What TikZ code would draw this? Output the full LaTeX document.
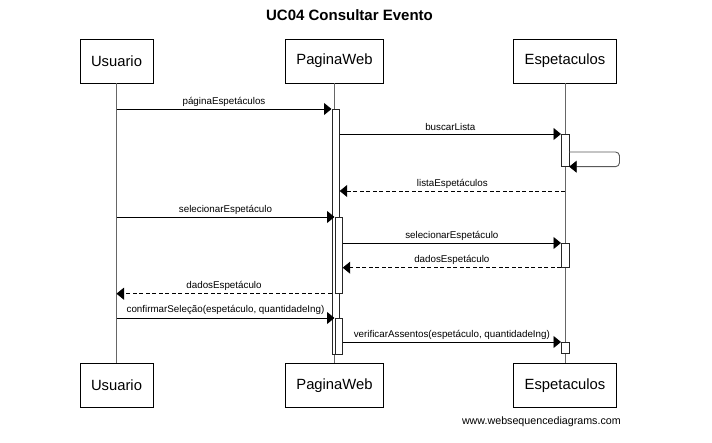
\documentclass[tikz,border=0pt]{standalone}
\usepackage{fontspec}
\setmainfont{Liberation Sans}
\usetikzlibrary{arrows.meta,calc}
\begin{document}
\begin{tikzpicture}[x=1pt,y=-1pt,
  actor/.style={draw=black, line width=0.9pt, fill=white, minimum height=44pt, inner xsep=11pt, font=\fontsize{14.8}{17}\selectfont},
  lifeline/.style={draw=black!60, line width=0.8pt},
  actbar/.style={draw=black!85, line width=0.7pt, fill=white, minimum width=7.5pt, inner sep=0pt, anchor=north west},
  msg/.style={draw=black, line width=0.9pt, -{Triangle[length=7.5pt,width=12pt,color=black]}},
  ret/.style={msg, dash pattern=on 4pt off 2.5pt},
  selfmsg/.style={msg, draw=black!65, rounded corners=4pt},
  lbl/.style={font=\fontsize{9.8}{11}\selectfont, above, inner sep=2.5pt}
]
\useasboundingbox (0,0) rectangle (712,443);

% title
\node[font=\fontsize{15}{18}\selectfont\bfseries, anchor=base] (title) at (349.5,20.5) {UC04 Consultar Evento};

% participants
\node[actor] (u1) at (116.5,61) {Usuario};
\node[actor] (p1) at (334.5,61) {PaginaWeb};
\node[actor] (e1) at (565,61) {Espetaculos};
\node[actor] (u2) at (116.5,385.5) {Usuario};
\node[actor] (p2) at (334.5,385.5) {PaginaWeb};
\node[actor] (e2) at (565,385.5) {Espetaculos};

% lifelines
\draw[lifeline] (u1.south) -- (u2.north);
\draw[lifeline] (p1.south) -- (p2.north);
\draw[lifeline] (e1.south) -- (e2.north);

% activation bars
\node[actbar, minimum height=245pt] (a1) at (331.5,109) {};
\node[actbar, minimum height=76pt] (a2) at (334.5,217) {};
\node[actbar, minimum height=36pt] (a3) at (334.5,318) {};
\node[actbar, minimum height=32pt] (b1) at (561,134) {};
\node[actbar, minimum height=24pt] (b2) at (561,243) {};
\node[actbar, minimum height=11pt] (b3) at (561,342) {};

% self call corner
\coordinate (selfR) at (619.5,159);

% messages
\draw[msg] (u1.south |- a1.north) -- (a1.north west) node[lbl, midway] {páginaEspetáculos};
\draw[msg] (a1.east |- b1.north) -- (b1.north west) node[lbl, midway] {buscarLista};
\draw[selfmsg] (b1.east |- 0,152) -| (selfR) |- (b1.south east);
\draw[ret] (e1.south |- 0,191) -- (a1.east |- 0,191) node[lbl, midway] {listaEspetáculos};
\draw[msg] (u1.south |- a2.north) -- (a2.north west) node[lbl, midway] {selecionarEspetáculo};
\draw[msg] (a2.east |- b2.north) -- (b2.north west) node[lbl, midway] {selecionarEspetáculo};
\draw[ret] (b2.south west) -- (a2.east |- b2.south) node[lbl, midway] {dadosEspetáculo};
\draw[ret] (a1.west |- a2.south) -- (u1.south |- a2.south) node[lbl, midway] {dadosEspetáculo};
\draw[msg] (u1.south |- a3.north) -- (a3.north west) node[lbl, midway] {confirmarSeleção(espetáculo, quantidadeIng)};
\draw[msg] (a3.east |- b3.north) -- (b3.north west) node[lbl, midway] {verificarAssentos(espetáculo, quantidadeIng)};

% footer
\node[font=\fontsize{10.7}{13}\selectfont, anchor=base east, inner sep=0pt] (footer) at (621,424) {www.websequencediagrams.com};
\end{tikzpicture}
\end{document}
